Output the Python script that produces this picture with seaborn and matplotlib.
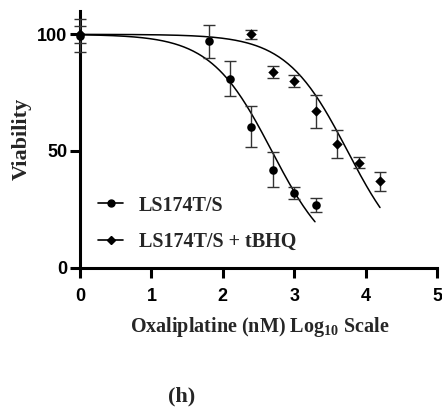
import numpy as np
import pandas as pd
import matplotlib
matplotlib.use("Agg")
import matplotlib.pyplot as plt
from matplotlib.lines import Line2D
import seaborn as sns

# ---- data ----
series_names = ["LS174T/S", "LS174T/S + tBHQ"]
x_ls = [0.0, 1.8, 2.1, 2.4, 2.7, 3.0, 3.3]
y_ls = [99.5, 97.0, 81.0, 60.5, 42.0, 32.0, 27.0]
e_ls = [7.0, 7.0, 7.5, 9.0, 7.5, 2.5, 3.0]
x_tb = [0.0, 2.4, 2.7, 3.0, 3.3, 3.6, 3.9, 4.2]
y_tb = [100.0, 100.0, 84.0, 80.0, 67.0, 53.0, 45.0, 37.0]
e_tb = [3.5, 2.0, 2.5, 2.5, 7.0, 6.0, 2.5, 4.0]
# fitted dose-response curves (log IC50, Hill slope, x-range end)
fit_logic50 = [2.685, 3.745]
fit_hill = [1.01, 1.01]
fit_xmax = [3.29, 4.2]
xticks = [0, 1, 2, 3, 4, 5]
yticks = [0, 50, 100]

sns.set_theme(style="ticks")
plt.rcParams["font.family"] = ["Liberation Sans", "DejaVu Sans"]
plt.rcParams["mathtext.fontset"] = "custom"
plt.rcParams["mathtext.rm"] = "Liberation Serif:bold"
plt.rcParams["mathtext.it"] = "Liberation Serif:bold"
plt.rcParams["mathtext.bf"] = "Liberation Serif:bold"

fig = plt.figure(figsize=(4.42, 4.08), dpi=100)
ax = fig.add_axes([0.181, 0.344, 0.808, 0.629])

# fit curves
rows = []
for name, c, h, xm in zip(series_names, fit_logic50, fit_hill, fit_xmax):
    xs = np.linspace(0, xm, 200)
    ys = 100.0 / (1.0 + 10 ** ((xs - c) * h))
    rows.append(pd.DataFrame({"x": xs, "y": ys, "series": name}))
curves = pd.concat(rows)
sns.lineplot(data=curves, x="x", y="y", units="series", estimator=None,
             color="black", lw=1.1, ax=ax, legend=False)

# error bars
ax.errorbar(x_ls, y_ls, yerr=e_ls, fmt="none", ecolor="#333333", elinewidth=1.0,
            capsize=4, capthick=1.0, zorder=3, clip_on=False)
ax.errorbar(x_tb, y_tb, yerr=e_tb, fmt="none", ecolor="#333333", elinewidth=1.0,
            capsize=4, capthick=1.0, zorder=3, clip_on=False)

# points
df_ls = pd.DataFrame({"x": x_ls, "y": y_ls})
df_tb = pd.DataFrame({"x": x_tb, "y": y_tb})
sns.scatterplot(data=df_ls, x="x", y="y", marker="o", color="black", s=38,
                linewidth=0, ax=ax, legend=False, zorder=4, clip_on=False)
sns.scatterplot(data=df_tb, x="x", y="y", marker="D", color="black", s=28,
                linewidth=0, ax=ax, legend=False, zorder=4, clip_on=False)

ax.set_xlim(0, 5)
ax.set_ylim(0, 110)
ax.set_xticks(xticks)
ax.set_yticks(yticks)
ax.set_xticklabels([str(t) for t in xticks], fontsize=13, fontweight="bold")
ax.set_yticklabels([str(t) for t in yticks], fontsize=13, fontweight="bold")
for s in ["top", "right"]:
    ax.spines[s].set_visible(False)
for s in ["left", "bottom"]:
    ax.spines[s].set_linewidth(2.2)
    ax.spines[s].set_color("black")
ax.tick_params(axis="both", direction="out", length=7, width=2.2, colors="black")
ax.tick_params(axis="x", pad=8)
ax.tick_params(axis="y", pad=2)

serif = ["Liberation Serif", "DejaVu Serif"]
ax.set_xlabel("Oxaliplatine (nM) Log$_{10}$ Scale", fontsize=14.5, fontweight="bold",
              family=serif)
ax.set_ylabel("Viability", fontsize=16, fontweight="bold", family=serif)
ax.xaxis.set_label_coords(0.504, -0.183)
ax.yaxis.set_label_coords(-0.134, 0.5)

handles = [
    Line2D([0], [0], color="black", lw=1.2, marker="o", markersize=5),
    Line2D([0], [0], color="black", lw=1.2, marker="D", markersize=4.5),
]
ax.legend(handles, series_names, loc="center left", bbox_to_anchor=(0.204, 0.452),
          bbox_transform=fig.transFigure, borderaxespad=0,
          frameon=False, handlelength=1.25, handletextpad=0.75, labelspacing=0.8,
          prop={"family": serif, "weight": "bold", "size": 14.5})

fig.text(0.41, 0.029, "(h)", ha="center", va="center", fontsize=16,
         fontweight="bold", family=serif)

fig.savefig("out.png", dpi=100)
